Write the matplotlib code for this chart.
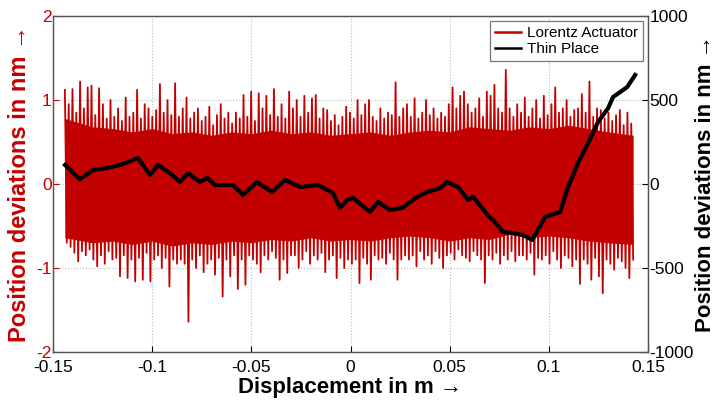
import numpy as np
import matplotlib
matplotlib.use("Agg")
import matplotlib.pyplot as plt

# ── data ────────────────────────────────────────────────────────────────────
# Lorentz actuator: upper and lower peaks of the dense oscillation (nm)
lorentz_upper = [
    1.12, 0.95, 1.13, 0.85, 1.22, 0.90, 1.15, 1.17, 0.82, 1.14, 0.95, 0.78, 1.00, 0.80, 0.90,
    0.75, 1.03, 0.80, 0.85, 1.12, 0.78, 0.95, 0.90, 0.80, 0.88, 1.19, 0.85, 1.00, 0.82, 1.20,
    0.80, 0.90, 1.03, 0.78, 0.85, 0.90, 0.75, 0.80, 0.92, 0.70, 0.82, 0.95, 0.78, 0.85, 0.72,
    0.85, 0.78, 1.06, 0.80, 1.10, 0.75, 1.08, 0.90, 1.05, 0.82, 1.13, 0.80, 0.95, 0.78, 1.10,
    0.90, 1.00, 0.80, 1.05, 0.85, 1.02, 1.06, 0.78, 0.90, 0.88, 0.75, 0.82, 0.70, 0.80, 0.92,
    0.85, 0.78, 1.00, 0.82, 0.95, 1.00, 0.80, 0.75, 0.90, 0.78, 0.85, 0.82, 1.21, 0.80, 0.90,
    0.95, 0.80, 1.02, 0.78, 0.85, 1.00, 0.82, 0.90, 0.78, 0.85, 0.80, 0.95, 1.15, 0.90, 1.05,
    1.10, 0.95, 0.85, 0.90, 1.02, 0.80, 1.10, 1.05, 1.18, 0.90, 0.85, 1.36, 0.90, 0.80, 0.95,
    0.85, 1.03, 0.80, 0.90, 1.00, 0.78, 1.05, 0.82, 0.95, 1.15, 0.85, 0.90, 1.00, 0.80, 0.88,
    0.90, 1.07, 0.85, 1.22, 0.80, 0.90, 0.88, 0.78, 0.85, 0.75, 0.82, 0.88, 0.70, 0.85, 0.72,
]
lorentz_lower = [
    -0.70, -0.75, -0.82, -0.92, -0.80, -0.85, -0.78, -0.90, -0.98, -0.85, -0.95, -0.80, -0.90, -0.88, -1.10,
    -0.85, -1.12, -0.90, -1.16, -0.88, -1.14, -0.82, -1.16, -0.90, -0.85, -1.00, -0.88, -1.22, -0.90, -0.95,
    -0.90, -0.95, -1.64, -0.90, -1.00, -0.85, -1.05, -0.95, -0.90, -1.08, -0.88, -1.34, -0.90, -1.10, -0.85,
    -1.25, -0.90, -1.20, -0.85, -0.90, -0.95, -1.05, -0.85, -0.90, -0.80, -0.88, -1.14, -0.90, -1.06, -0.85,
    -0.85, -1.00, -0.90, -0.80, -0.95, -0.85, -0.90, -0.82, -1.05, -0.90, -0.85, -1.12, -0.88, -1.00, -0.90,
    -0.95, -0.90, -1.18, -0.88, -0.95, -1.14, -0.85, -0.90, -0.88, -0.95, -0.82, -0.90, -1.14, -0.90, -0.85,
    -0.90, -0.85, -0.98, -0.80, -0.90, -0.85, -0.95, -0.80, -0.88, -1.00, -0.85, -0.82, -0.90, -0.78, -0.85,
    -0.88, -0.92, -0.80, -0.85, -0.90, -1.18, -0.85, -0.90, -0.82, -0.95, -0.85, -0.90, -0.80, -0.92, -0.85,
    -0.85, -0.90, -0.82, -1.08, -0.88, -0.90, -0.85, -0.95, -0.80, -0.90, -1.00, -0.85, -0.88, -0.98, -0.90,
    -1.19, -0.90, -0.95, -1.14, -0.88, -1.10, -1.30, -0.90, -0.95, -1.02, -0.88, -0.92, -1.00, -1.12, -0.90,
]
# solid core of the red band (ragged edge)
core_x = [-0.144, -0.13, -0.12, -0.11, -0.10, -0.09, -0.08, -0.07, -0.06, -0.05,
          -0.04, -0.03, -0.02, -0.01, 0.0, 0.01, 0.02, 0.03, 0.04, 0.05,
          0.06, 0.07, 0.08, 0.09, 0.10, 0.11, 0.12, 0.13, 0.1425]
core_hi = [0.78, 0.68, 0.66, 0.62, 0.66, 0.60, 0.62, 0.58, 0.62, 0.60,
           0.64, 0.60, 0.62, 0.58, 0.60, 0.62, 0.58, 0.62, 0.64, 0.62,
           0.68, 0.66, 0.64, 0.68, 0.66, 0.70, 0.66, 0.62, 0.58]
core_lo = [-0.64, -0.70, -0.68, -0.72, -0.68, -0.74, -0.70, -0.72, -0.68, -0.70,
           -0.66, -0.68, -0.64, -0.68, -0.66, -0.68, -0.64, -0.62, -0.64, -0.68,
           -0.64, -0.66, -0.60, -0.64, -0.62, -0.64, -0.68, -0.70, -0.72]

# Thin place: position deviation (nm) vs displacement (m)
thin_x = [
    -0.1439, -0.1364, -0.1298, -0.1228, -0.1162, -0.1071, -0.1011, -0.0970, -0.0910, -0.0860,
    -0.0819, -0.0759, -0.0723, -0.0683, -0.0592, -0.0542, -0.0471, -0.0396, -0.0330, -0.0254,
    -0.0164, -0.0088, -0.0053, -0.0017, 0.0013, 0.0099, 0.0139, 0.0199, 0.0260, 0.0336,
    0.0386, 0.0452, 0.0487, 0.0542, 0.0593, 0.0618, 0.0704, 0.0719, 0.0769, 0.0820,
    0.0870, 0.0916, 0.0981, 0.1057, 0.1097, 0.1147, 0.1198, 0.1248, 0.1299, 0.1324,
    0.1395, 0.1435,
]
thin_y = [
    113, 28, 83, 95, 113, 155, 54, 113, 65, 12,
    65, 12, 36, -6, -6, -65, 12, -48, 24, -18,
    -6, -54, -143, -95, -83, -167, -107, -155, -143, -77,
    -48, -24, 12, -18, -95, -77, -202, -214, -286, -292,
    -304, -333, -196, -167, -18, 125, 244, 369, 452, 518,
    577, 649,
]

x_ticks = [-0.15, -0.1, -0.05, 0, 0.05, 0.1, 0.15]
x_labels = ["-0.15", "-0.1", "-0.05", "0", "0.05", "0.1", "0.15"]
left_ticks = [-2, -1, 0, 1, 2]
right_ticks = [-1000, -500, 0, 500, 1000]

RED = "#C30000"
plt.rcParams["font.family"] = ["Liberation Sans", "DejaVu Sans"]
plt.rcParams["axes.unicode_minus"] = False


def main():
    fig = plt.figure(figsize=(7.17, 4.03), dpi=100)
    ax = fig.add_axes([0.0739, 0.1266, 0.8299, 0.8337])

    # zigzag through alternating peaks
    n = len(lorentz_upper)
    xs = np.linspace(-0.144, 0.1425, 2 * n)
    ys = np.empty(2 * n)
    ys[0::2] = lorentz_upper
    ys[1::2] = lorentz_lower
    ax.fill_between(core_x, core_lo, core_hi, color=RED, lw=0)
    ax.plot(xs, ys, color=RED, lw=1.3, label="Lorentz Actuator")

    ax.set_xlim(-0.15, 0.15)
    ax.set_ylim(-2, 2)
    ax.set_xticks(x_ticks)
    ax.set_xticklabels(x_labels)
    ax.set_yticks(left_ticks)
    ax.tick_params(axis="both", direction="in", labelsize=12.5, length=4)
    ax.tick_params(axis="x", pad=6)
    ax.tick_params(axis="y", colors=RED, labelcolor=RED, pad=1)
    ax.grid(True, ls=":", color="#BBBBBB", lw=0.8)
    ax.set_axisbelow(True)
    ax.set_xlabel("Displacement in m \u2192", fontsize=16, fontweight="bold", labelpad=1)
    ax.set_ylabel("Position deviations in nm \u2192", fontsize=17, fontweight="bold",
                  color=RED, labelpad=4)

    ax2 = ax.twinx()
    ax2.plot(thin_x, thin_y, color="black", lw=3.0, label="Thin Place")
    ax2.set_ylim(-1000, 1000)
    ax2.set_yticks(right_ticks)
    ax2.tick_params(axis="y", direction="in", labelsize=12.5, length=4, pad=1)
    ax2.set_ylabel("Position deviations in nm \u2192", fontsize=16, fontweight="bold",
                   labelpad=1)

    for a in (ax, ax2):
        for s in a.spines.values():
            s.set_color("#555555")
            s.set_linewidth(0.9)

    h1, l1 = ax.get_legend_handles_labels()
    h2, l2 = ax2.get_legend_handles_labels()
    leg = ax2.legend(h1 + h2, l1 + l2, loc="upper right", fontsize=11,
                     frameon=True, fancybox=False, edgecolor="#555555",
                     borderpad=0.3, handlelength=1.7, handletextpad=0.4,
                     labelspacing=0.15, borderaxespad=0.35)
    leg.get_frame().set_linewidth(0.9)
    leg.get_lines()[0].set_linewidth(1.8)
    leg.get_lines()[1].set_linewidth(1.8)

    fig.savefig("out.png", dpi=100)
    plt.close(fig)


if __name__ == "__main__":
    main()
